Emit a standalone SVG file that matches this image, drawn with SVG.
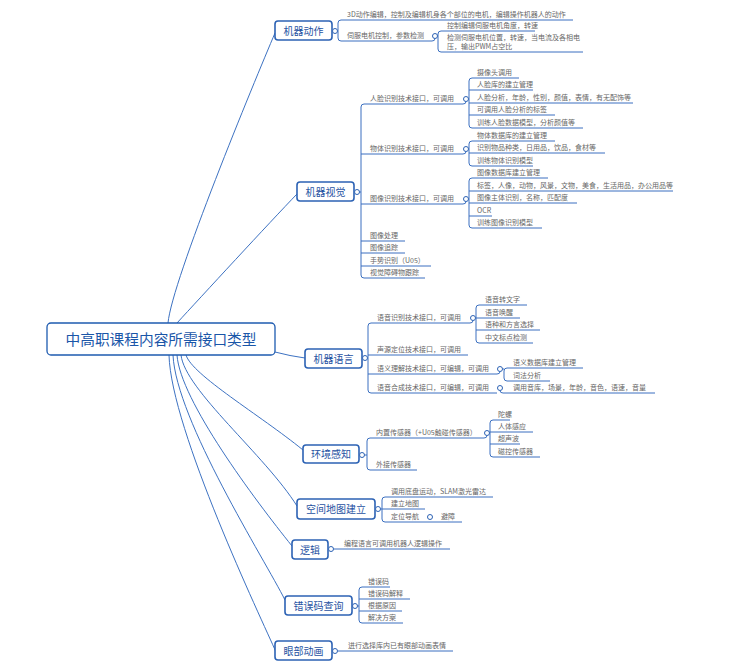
<svg xmlns="http://www.w3.org/2000/svg" width="731" height="669" viewBox="0 0 731 669">
<style>
.t{font-family:"Noto Sans CJK SC","Noto Sans",sans-serif;font-size:7px;fill:#666}
.ln{stroke:#3a6fc0;stroke-width:1;fill:none}
.rc{stroke:#3d72c2;stroke-width:1;fill:none}
.box{fill:#fff;stroke:#2c62b4;stroke-width:1.6}
.nt{font-family:"Noto Sans CJK SC","Noto Sans",sans-serif;font-size:10px;fill:#1f52a2;text-anchor:middle}
.c{fill:#fff;stroke:#2c62b4;stroke-width:1}
</style>
<rect width="731" height="669" fill="#fff"/>
<g id="connectors">
<path class="rc" d="M168,323 C172,280 255,80 275,33"/>
<path class="rc" d="M177,323 C200,298 270,222 297,194"/>
<path class="rc" d="M275,352 Q290,356 305,358"/>
<path class="rc" d="M186,355 C192,375 260,415 303,450"/>
<path class="rc" d="M181,355 C185,390 265,455 297,506"/>
<path class="rc" d="M177,355 C180,400 255,500 292,546"/>
<path class="rc" d="M173,355 C176,420 265,560 285,600"/>
<path class="rc" d="M169,355 C171,430 262,620 276,652"/>
<path class="ln" d="M337.5,31 H338 M341,20 Q338,20 338,23 V38 Q338,41 341,41 M341,20 H573 M341,41 H432 Q435,41 435,38.5"/>
<path class="ln" d="M437.5,36 H438 M441,31 Q438,31 438,34 V49 Q438,52 441,52 M441,31 H535 M441,52 H583"/>
<path class="ln" d="M359.5,192 H361 M364,104 Q361,104 361,107 V275 Q361,278 364,278 M364,104 H463 Q466,104 466,101.5 M361,154 H463 Q466,154 466,151.5 M361,204 H463 Q466,204 466,201.5 M361,241 H405 M361,253 H405 M361,266 H431 M364,278 H425"/>
<path class="ln" d="M468.5,99 H469 M472,78 Q469,78 469,81 V125 Q469,128 472,128 M472,78 H519 M469,90 H533 M469,103 H633 M469,115 H555 M472,128 H583"/>
<path class="ln" d="M468.5,149 H469 M472,141 Q469,141 469,144 V163 Q469,166 472,166 M472,141 H555 M469,153 H605 M472,166 H533"/>
<path class="ln" d="M468.5,199 H469 M472,178 Q469,178 469,181 V225 Q469,228 472,228 M472,178 H548 M469,191 H673 M469,203 H577 M469,216 H492 M472,228 H542"/>
<path class="ln" d="M367.5,358 H368 M371,323 Q368,323 368,326 V390 Q368,393 371,393 M371,323 H470 Q473,323 473,320.5 M368,355 H468 M368,374 H497 Q500,374 500,371.5 M371,393 H497"/>
<path class="ln" d="M475.5,318 H476 M479,305 Q476,305 476,308 V340 Q476,343 479,343 M479,305 H527 M476,318 H520 M476,330 H540 M479,343 H533"/>
<path class="ln" d="M502.5,369 H504 M507,368 Q504,368 504,371 V378 Q504,381 507,381 M507,368 H583 M507,381 H550"/>
<path class="ln" d="M500,390.5 Q500,393 503,393 H655"/>
<path class="ln" d="M364.5,455 H367 M370,438 Q367,438 367,441 V467 Q367,470 370,470 M370,438 H484 Q487,438 487,435.5 M370,470 H417"/>
<path class="ln" d="M489.5,433 H490 M493,420 Q490,420 490,423 V454 Q490,457 493,457 M493,420 H510 M490,432 H533 M490,444 H520 M493,457 H540"/>
<path class="ln" d="M380.5,509 H382 M385,497 Q382,497 382,500 V519 Q382,522 385,522 M385,497 H493 M382,509 H425 M385,522 H462"/>
<path class="ln" d="M333.5,549 H450"/>
<path class="ln" d="M357.5,606 H359 M362,587 Q359,587 359,590 V620 Q359,623 362,623 M362,587 H390 M359,599 H410 M359,611 H402 M362,623 H403"/>
<path class="ln" d="M337.5,651 H453"/>
</g>
<g id="root">
<rect x="47" y="323" width="228" height="32" rx="4" fill="#fff" stroke="#1e5bb0" stroke-width="1.3"/>
<text x="161" y="344.5" font-family="Noto Sans CJK SC, Noto Sans, sans-serif" font-size="14.7" fill="#1a56a8" text-anchor="middle">中高职课程内容所需接口类型</text>
</g>
<g id="node-action">
<rect class="box" x="275" y="21" width="57" height="19" rx="3"/>
<text class="nt" x="303.5" y="34.5">机器动作</text>
<circle class="c" cx="335" cy="31" r="2.5"/>
<text class="t" x="347" y="16.5">3D动作编辑，控制及编辑机身各个部位的电机，编辑操作机器人的动作</text>
<text class="t" x="347" y="38">伺服电机控制，参数检测</text>
<circle class="c" cx="435" cy="36" r="2.5"/>
<text class="t" x="447" y="28">控制编辑伺服电机角度，转速</text>
<text class="t" x="447" y="39.5">检测伺服电机位置，转速，当电流及各相电</text>
<text class="t" x="447" y="49">压，输出PWM占空比</text>
</g>
<g id="node-vision">
<rect class="box" x="297" y="182" width="57" height="19" rx="3"/>
<text class="nt" x="325.5" y="195.5">机器视觉</text>
<circle class="c" cx="357" cy="192" r="2.5"/>
<text class="t" x="370" y="101">人脸识别技术接口，可调用</text>
<circle class="c" cx="466" cy="99" r="2.5"/>
<text class="t" x="477" y="75">摄像头调用</text>
<text class="t" x="477" y="87">人脸库的建立管理</text>
<text class="t" x="477" y="100">人脸分析，年龄，性别，颜值，表情，有无配饰等</text>
<text class="t" x="477" y="112">可调用人脸分析的标签</text>
<text class="t" x="477" y="125">训练人脸数据模型，分析颜值等</text>
<text class="t" x="370" y="151">物体识别技术接口，可调用</text>
<circle class="c" cx="466" cy="149" r="2.5"/>
<text class="t" x="477" y="138">物体数据库的建立管理</text>
<text class="t" x="477" y="150">识别物品种类，日用品，饮品，食材等</text>
<text class="t" x="477" y="163">训练物体识别模型</text>
<text class="t" x="370" y="201">图像识别技术接口，可调用</text>
<circle class="c" cx="466" cy="199" r="2.5"/>
<text class="t" x="477" y="175">图像数据库建立管理</text>
<text class="t" x="477" y="188">标签，人像，动物，风景，文物，美食，生活用品，办公用品等</text>
<text class="t" x="477" y="200">图像主体识别，名称，匹配度</text>
<text class="t" x="477" y="213">OCR</text>
<text class="t" x="477" y="225">训练图像识别模型</text>
<text class="t" x="370" y="238">图像处理</text>
<text class="t" x="370" y="250">图像追踪</text>
<text class="t" x="370" y="263">手势识别（U05）</text>
<text class="t" x="370" y="275">视觉障碍物跟踪</text>
</g>
<g id="node-language">
<rect class="box" x="305" y="349" width="57" height="19" rx="3"/>
<text class="nt" x="333.5" y="362.5">机器语言</text>
<circle class="c" cx="365" cy="358" r="2.5"/>
<text class="t" x="377" y="320">语音识别技术接口，可调用</text>
<circle class="c" cx="473" cy="318" r="2.5"/>
<text class="t" x="485" y="302">语音转文字</text>
<text class="t" x="485" y="315">语音唤醒</text>
<text class="t" x="485" y="327">语种和方言选择</text>
<text class="t" x="485" y="340">中文标点检测</text>
<text class="t" x="377" y="352">声源定位技术接口，可调用</text>
<text class="t" x="377" y="371">语义理解技术接口，可编辑，可调用</text>
<circle class="c" cx="500" cy="369" r="2.5"/>
<text class="t" x="513" y="365">语义数据库建立管理</text>
<text class="t" x="513" y="378">词法分析</text>
<text class="t" x="377" y="390">语音合成技术接口，可编辑，可调用</text>
<circle class="c" cx="500" cy="388" r="2.5"/>
<text class="t" x="513" y="390">调用音库，场景，年龄，音色，语速，音量</text>
</g>
<g id="node-env">
<rect class="box" x="303" y="445" width="56" height="18" rx="3"/>
<text class="nt" x="331" y="458">环境感知</text>
<circle class="c" cx="362" cy="455" r="2.5"/>
<text class="t" x="376" y="435">内置传感器（+U05触碰传感器）</text>
<circle class="c" cx="487" cy="433" r="2.5"/>
<text class="t" x="498" y="417">陀螺</text>
<text class="t" x="498" y="429">人体感应</text>
<text class="t" x="498" y="441">超声波</text>
<text class="t" x="498" y="454">磁控传感器</text>
<text class="t" x="376" y="467">外接传感器</text>
</g>
<g id="node-map">
<rect class="box" x="297" y="499" width="78" height="20" rx="3"/>
<text class="nt" x="336" y="513">空间地图建立</text>
<circle class="c" cx="378" cy="509" r="2.5"/>
<text class="t" x="391" y="494">调用底盘运动，SLAM激光雷达</text>
<text class="t" x="391" y="506">建立地图</text>
<text class="t" x="391" y="519">定位导航</text>
<circle class="c" cx="430" cy="517" r="2.5"/>
<text class="t" x="441" y="519">避障</text>
</g>
<g id="node-logic">
<rect class="box" x="292" y="540" width="36" height="19" rx="3"/>
<text class="nt" x="310" y="553.5">逻辑</text>
<circle class="c" cx="331" cy="549" r="2.5"/>
<text class="t" x="344" y="546">编程语言可调用机器人逻辑操作</text>
</g>
<g id="node-error">
<rect class="box" x="285" y="596" width="67" height="19" rx="3"/>
<text class="nt" x="318.5" y="609.5">错误码查询</text>
<circle class="c" cx="355" cy="606" r="2.5"/>
<text class="t" x="368" y="584">错误码</text>
<text class="t" x="368" y="596">错误码解释</text>
<text class="t" x="368" y="608">根据原因</text>
<text class="t" x="368" y="620">解决方案</text>
</g>
<g id="node-eye">
<rect class="box" x="275" y="641" width="57" height="19" rx="3"/>
<text class="nt" x="303.5" y="654.5">眼部动画</text>
<circle class="c" cx="335" cy="651" r="2.5"/>
<text class="t" x="348" y="648">进行选择库内已有眼部动画表情</text>
</g>
</svg>
